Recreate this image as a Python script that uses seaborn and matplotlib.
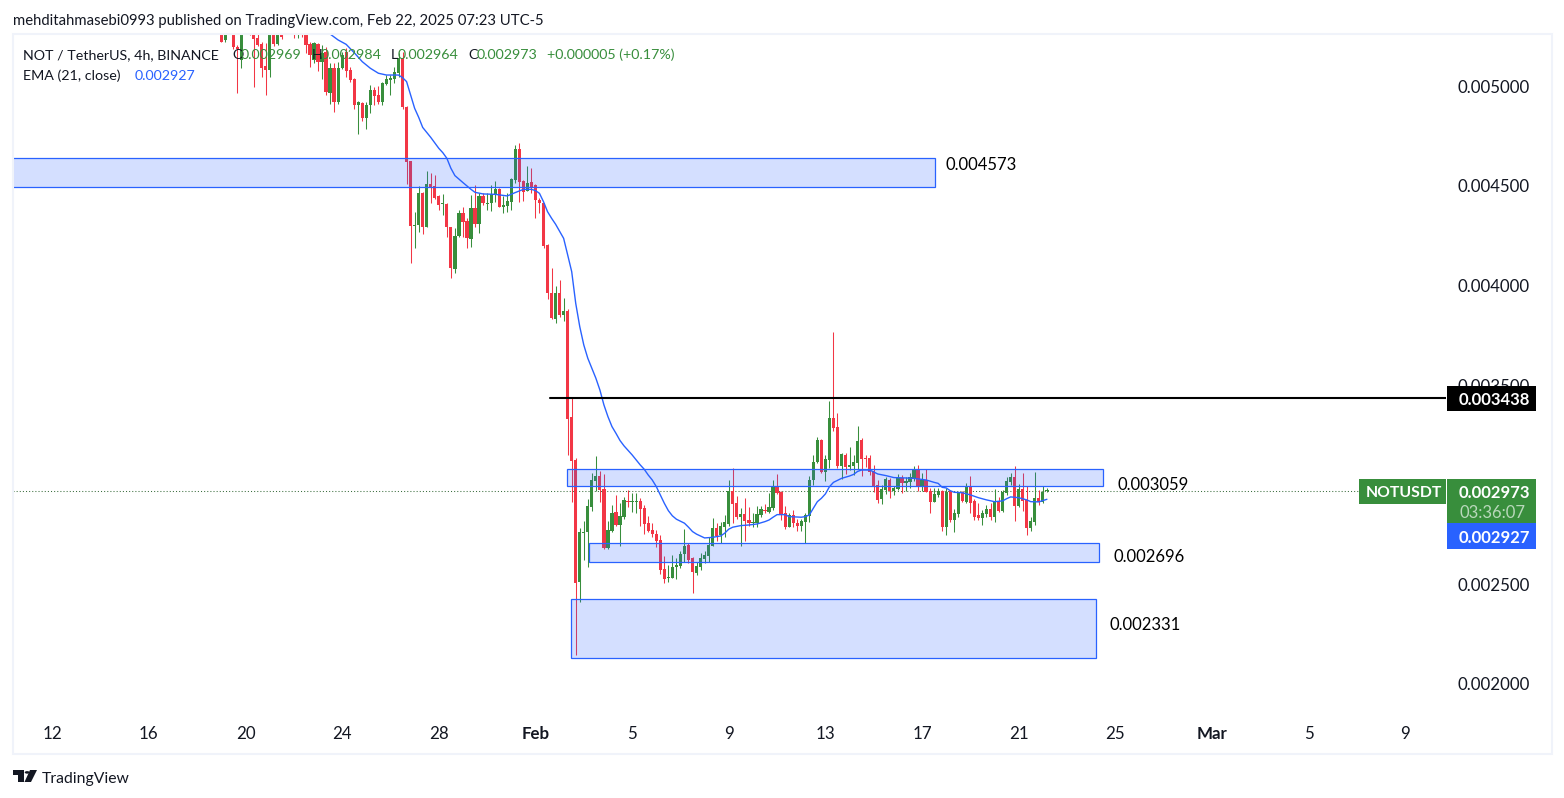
import numpy as np
import pandas as pd
import matplotlib.pyplot as plt
import seaborn as sns
from matplotlib.patches import Rectangle, Circle, Polygon

# prices are in millionths of USDT, one entry per 4h bar
opens = [5300,5233,5300,5310,5199,5132,5310,5300,5263,5241,
         5213,5102,5082,5270,5213,5270,5290,5280,5300,5285,
         5300,5290,5213,5132,5213,5124,5174,4968,5091,4923,
         5091,5174,5082,5035,4907,4918,4843,4907,4982,4957,
         4920,5012,5032,5035,5066,5141,4895,4626,4299,4304,
         4467,4296,4510,4500,4450,4410,4411,4293,4085,4249,
         4365,4324,4234,4391,4308,4450,4410,4413,4455,4485,
         4393,4401,4421,4530,4684,4525,4477,4518,4505,4430,
         4413,4204,3961,3831,3961,3852,3872,3339,3125,2514,
         2760,2763,2890,3021,3044,2979,2681,2770,2864,2798,
         2840,2919,2915,2915,2919,2882,2807,2773,2753,2721,
         2576,2534,2534,2589,2593,2650,2698,2633,2559,2588,
         2629,2644,2695,2785,2750,2790,2803,2969,2907,2838,
         2854,2823,2807,2807,2849,2874,2864,2882,2996,2965,
         2857,2790,2848,2806,2793,2815,2845,3024,3113,3225,
         3064,3124,3335,3290,3096,3149,3089,3094,3109,3225,
         3134,3134,3069,2997,2927,2974,3024,2967,2980,3034,
         3011,3016,3032,3077,2990,3024,2967,2914,2950,2967,
         2786,2967,2823,2853,2964,2915,2987,2919,2848,2833,
         2852,2878,2840,2917,2868,2957,3012,3039,2893,2979,
         2924,2783,2813,2934,2915,2969]
closes = [5224,5290,5285,5199,5186,5300,5295,5260,5238,5208,
          5094,5082,5270,5213,5270,5246,5280,5295,5285,5300,
          5290,5208,5157,5216,5124,5166,4973,5091,4923,5091,
          5157,5079,5032,4907,4923,4843,4907,4982,4953,4920,
          5015,5035,5040,5074,5141,4895,4622,4301,4304,4463,
          4296,4510,4493,4441,4405,4416,4293,4087,4249,4365,
          4321,4241,4391,4308,4450,4413,4416,4460,4485,4396,
          4405,4425,4535,4684,4522,4472,4513,4493,4430,4413,
          4199,3961,3836,3961,3852,3872,3332,3121,2509,2763,
          2763,2894,3024,3044,2974,2681,2773,2857,2798,2843,
          2924,2914,2919,2919,2879,2803,2768,2753,2718,2573,
          2529,2537,2588,2598,2653,2693,2623,2564,2594,2633,
          2649,2698,2782,2745,2793,2813,2969,2904,2840,2854,
          2819,2807,2812,2854,2879,2869,2889,2996,2961,2848,
          2786,2848,2806,2793,2818,2848,3024,3113,3225,3064,
          3129,3335,3287,3094,3154,3091,3099,3113,3220,3129,
          3131,3066,2996,2924,2977,3031,2969,2985,3034,3011,
          3019,3041,3077,2990,3024,2962,2914,2952,2967,2790,
          2964,2823,2857,2957,2919,2987,2910,2840,2832,2857,
          2877,2840,2917,2868,2965,3017,3037,2893,2979,2920,
          2783,2818,2934,2915,2965,2973]
highs = [5320,5310,5320,5330,5210,5330,5330,5320,5280,5263,
         5225,5216,5300,5290,5300,5300,5310,5320,5320,5320,
         5320,5310,5224,5224,5219,5208,5199,5116,5116,5124,
         5174,5191,5096,5044,4928,4923,4923,5007,4999,5002,
         5024,5057,5057,5099,5166,5174,4902,4626,4371,4502,
         4472,4577,4567,4555,4455,4460,4416,4296,4288,4380,
         4396,4338,4455,4505,4463,4463,4463,4505,4527,4492,
         4451,4463,4542,4706,4714,4530,4600,4589,4510,4438,
         4416,4209,4087,3998,4028,3936,3881,3434,3133,2782,
         2818,2927,3058,3145,3071,3054,2818,2899,2949,2910,
         2941,2974,2957,2957,2932,2899,2844,2807,2773,2748,
         2643,2598,2648,2631,2665,2778,2706,2639,2614,2659,
         2665,2736,2832,2807,2815,2849,3024,3084,2944,2882,
         2932,2890,2857,2894,2894,2904,2957,3024,3054,2970,
         2893,2860,2873,2827,2827,2860,3044,3149,3241,3228,
         3149,3420,3765,3360,3161,3158,3190,3149,3295,3233,
         3149,3149,3099,3024,2999,3037,3032,2996,3054,3049,
         3037,3057,3096,3099,3057,3077,2982,2982,2982,2974,
         2982,2974,2878,2965,2970,3007,3044,2927,2907,2873,
         2898,2907,2979,2940,2974,3037,3057,3094,3004,3057,
         2996,2840,3064,2974,2996,2984]
lows = [5222,5221,5270,5190,4965,5091,5280,5258,4999,5203,
        5049,4957,5049,5205,5208,5240,5272,5270,5241,5241,
        5250,5166,5099,5116,5079,5035,4957,4912,4873,4912,
        5086,5049,5024,4886,4759,4828,4788,4868,4907,4912,
        4907,5007,4957,5015,5049,4885,4510,4112,4187,4271,
        4257,4296,4416,4433,4380,4353,4246,4037,4062,4246,
        4246,4187,4195,4296,4262,4405,4380,4376,4421,4393,
        4366,4371,4380,4513,4421,4425,4475,4463,4341,4366,
        4187,3931,3831,3814,3841,3824,3150,2915,2146,2409,
        2623,2589,2870,2971,2915,2676,2676,2765,2795,2693,
        2830,2887,2865,2860,2793,2753,2765,2740,2685,2551,
        2509,2514,2531,2529,2584,2614,2606,2459,2547,2573,
        2609,2611,2690,2718,2706,2740,2793,2807,2827,2695,
        2718,2793,2787,2787,2840,2857,2860,2874,2954,2823,
        2776,2786,2786,2770,2770,2706,2815,2999,3108,3061,
        3019,3082,3272,3086,3027,3054,3074,3049,3077,3046,
        3088,3049,2965,2907,2904,2954,2935,2949,2974,2960,
        2970,2982,3021,2970,2970,2962,2860,2912,2940,2770,
        2748,2811,2765,2840,2915,2910,2860,2823,2823,2798,
        2840,2823,2815,2865,2865,2949,2999,2818,2890,2868,
        2748,2768,2798,2898,2910,2964]

# EMA(21) read at some of the bars
ema_bar = [27,29,31,33,35,37,39,41,44,45,46,47,48,49,50,52,54,55,56,57,58,60,62,63,65,68,71,73,75,77,
           78,79,80,81,82,83,85,86,87,88,89,90,91,92,93,94,95,96,97,98,99,100,102,104,105,106,107,108,109,110,
           111,112,113,115,116,117,118,120,122,124,125,126,127,129,131,133,135,136,137,138,140,141,144,145,146,147,148,149,150,151,
           152,154,156,157,158,159,161,163,165,167,170,172,175,177,178,179,180,181,182,184,186,188,190,192,194,195,196,198,200,201,203,205]
ema_val = [5263,5233,5211,5169,5124,5091,5066,5057,5057,5044,5024,4957,4890,4845,4794,4744,4689,4667,4639,4589,4552,4517,4483,4468,4460,4458,4450,4467,4483,4483,
           4477,4463,4421,4371,4338,4308,4237,4154,4070,3911,3794,3702,3635,3585,3535,3476,3401,3342,3292,3258,3222,3195,3150,3100,3078,3049,3024,2991,2949,2907,
           2870,2844,2827,2807,2787,2765,2752,2733,2736,2743,2757,2777,2787,2795,2798,2803,2815,2823,2837,2850,2850,2840,2837,2840,2848,2882,2915,2932,2954,2990,
           3012,3032,3044,3052,3067,3074,3074,3054,3046,3036,3034,3032,3024,3012,3007,2987,2984,2970,2962,2960,2949,2935,2924,2915,2919,2930,2939,2935,2924,2915,2914,2927]

# drawn zones and their labels
zone_left = [-60, 85.9, 91.2, 86.9]
zone_right = [177.1, 218.9, 218.0, 217.1]
zone_top = [4639, 3078, 2706, 2425]
zone_bottom = [4493, 2996, 2611, 2129]
zone_labels = ['0.004573', '0.003059', '0.002696', '0.002331']
level_price = 3438
level_start = 81.6
last_line = 2967

# 0.003000 sits behind the price tags in the reference, so it is left out
price_ticks = [2000, 2500, 3500, 4000, 4500, 5000]
day_ticks = [-42, -18, 6, 30, 54, 78, 102, 126, 150, 174, 198, 222, 246, 270, 294]
day_labels = ['12', '16', '20', '24', '28', 'Feb', '5', '9', '13', '17', '21', '25', 'Mar', '5', '9']

W, H = 1564, 798
GREEN = '#388E3C'
RED = '#F23645'
BLUE = '#2962FF'
DARK = '#131722'
FS = 10.3


def px(x, y):
    return x / W, 1 - y / H


sns.set_theme(style='white')
plt.rcParams['font.family'] = ['Lato', 'DejaVu Sans']

fig = plt.figure(figsize=(W / 100, H / 100), dpi=100)
ax = fig.add_axes([13 / W, 1 - 716 / H, (1446 - 13) / W, (716 - 34) / H])

bars = pd.DataFrame({'open': opens, 'high': highs, 'low': lows, 'close': closes}) / 1e6
bars['bar'] = np.arange(len(bars))
up = bars['close'] >= bars['open']
colors = np.where(up, GREEN, RED)

# candles
wicks = ax.vlines(bars['bar'], bars['low'], bars['high'], colors=colors, linewidth=0.75, zorder=2)
wicks.set_snap(True)
ax.bar(bars['bar'], (bars['close'] - bars['open']).abs(), bottom=bars[['open', 'close']].min(axis=1),
       width=0.8, color=colors, linewidth=0, zorder=2)

# ema
ema = pd.DataFrame({'bar': ema_bar, 'ema': np.array(ema_val) / 1e6})
sns.lineplot(data=ema, x='bar', y='ema', color=BLUE, linewidth=1.0, ax=ax, zorder=3)

# zones
for left, right, top, bottom in zip(zone_left, zone_right, zone_top, zone_bottom):
    ax.add_patch(Rectangle((left, bottom / 1e6), right - left, (top - bottom) / 1e6,
                           facecolor=(0.16, 0.38, 1.0, 0.2), edgecolor=BLUE, linewidth=0.9, zorder=4))

ax.plot([level_start, 305], [level_price / 1e6] * 2, color='black', linewidth=1.5, zorder=5)
ax.axhline(last_line / 1e6, xmax=0.9525, color='#3C6E3F', linewidth=0.75, linestyle=(0, (1, 2)), zorder=1)

ax.set_xlim(-51.73, 304.1)
ax.set_ylim(0.001839, 0.005263)
ax.set_xlabel('')
ax.set_ylabel('')
sns.despine(ax=ax, left=True, bottom=True)

ax.yaxis.tick_right()
ax.set_yticks([p / 1e6 for p in price_ticks], [f'{p / 1e6:.6f}' for p in price_ticks])
ax.set_xticks(day_ticks, day_labels)
ax.tick_params(axis='y', length=0, pad=8.6, labelsize=12.2, labelcolor=DARK)
ax.tick_params(axis='x', length=0, pad=7.5, labelsize=12.2, labelcolor=DARK)
for lab in ax.get_yticklabels():
    lab.set_verticalalignment('center_baseline')
for lab in ax.get_xticklabels():
    if lab.get_text() in ('Feb', 'Mar'):
        lab.set_fontweight('bold')

# chart frame
fig.add_artist(Rectangle(px(12.5, 754), 1539 / W, 720 / H, transform=fig.transFigure,
                         facecolor='none', edgecolor='#F0F3FA', linewidth=1.5))

# zone labels
for label, (x, y) in zip(zone_labels, [(945, 163), (1118, 483), (1114, 556), (1110, 624)]):
    fig.text(*px(x, y), label, color='black', fontsize=12, va='center_baseline', zorder=10)

# header and legend
fig.text(*px(13, 19), 'mehditahmasebi0993 published on TradingView.com, Feb 22, 2025 07:23 UTC-5',
         color=DARK, fontsize=FS + 0.4, va='center_baseline')
fig.text(*px(23, 54), 'NOT / TetherUS, 4h, BINANCE', color=DARK, fontsize=FS, va='center_baseline', zorder=10)
for letter, lx, value, vx in [('O', 232, '0.002969', 241), ('H', 312, '0.002984', 321),
                              ('L', 391, '0.002964', 398), ('C', 468, '0.002973', 477)]:
    fig.text(*px(lx, 54), letter, color=DARK, fontsize=FS, va='center_baseline', zorder=10)
    fig.text(*px(vx, 54), value, color=GREEN, fontsize=FS, va='center_baseline', zorder=10)
fig.text(*px(547, 54), '+0.000005 (+0.17%)', color=GREEN, fontsize=FS, va='center_baseline', zorder=10)
fig.text(*px(23, 75), 'EMA (21, close)', color=DARK, fontsize=FS, va='center_baseline', zorder=10)
fig.text(*px(135, 75), '0.002927', color=BLUE, fontsize=FS, va='center_baseline', zorder=10)

# price axis tags
for x0, y0, x1, y1, color in [(1447, 386, 1536, 411, 'black'), (1359, 479, 1446, 504, GREEN),
                              (1447, 479, 1536, 524, GREEN), (1447, 523, 1536, 549, BLUE)]:
    fig.add_artist(Rectangle(px(x0, y1), (x1 - x0) / W, (y1 - y0) / H, transform=fig.transFigure,
                             facecolor=color, edgecolor='none', zorder=8))
for text, x, y, size, color, weight in [('0.003438', 1459, 398.5, 12, 'white', 'bold'), ('NOTUSDT', 1366, 491.5, 11.3, 'white', 'bold'),
                                        ('0.002973', 1459, 491.5, 12, 'white', 'bold'), ('03:36:07', 1459, 512, 12, '#B9D8BB', 'normal'),
                                        ('0.002927', 1459, 536.5, 12, 'white', 'bold')]:
    fig.text(*px(x, y), text, color=color, fontsize=size, fontweight=weight, va='center_baseline', zorder=10)

# footer logo and name
fig.add_artist(Polygon([px(13, 770), px(24, 770), px(24, 782), px(18, 782), px(18, 775), px(13, 775)],
                       transform=fig.transFigure, facecolor=DARK, edgecolor='none'))
fig.add_artist(Polygon([px(30, 770), px(37, 770), px(31, 782), px(24.5, 782)],
                       transform=fig.transFigure, facecolor=DARK, edgecolor='none'))
fig.add_artist(Circle(px(27.2, 772.4), 2.5 / W, transform=fig.transFigure, facecolor=DARK, edgecolor='none'))
fig.text(*px(42, 777), 'TradingView', color=DARK, fontsize=FS + 1, va='center_baseline')

fig.savefig('out.png', dpi=100)
